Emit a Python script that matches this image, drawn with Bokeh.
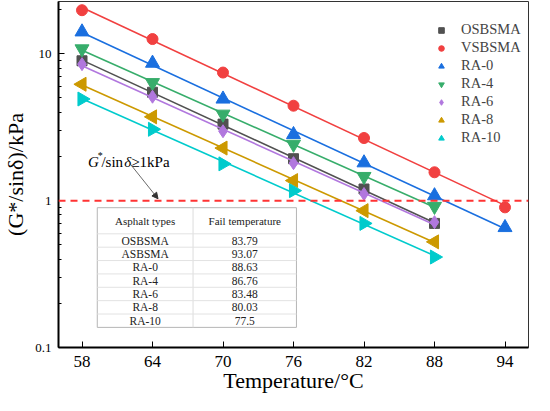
import numpy as np
from bokeh.plotting import figure
from bokeh.models import (Span, Arrow, NormalHead, FixedTicker, CustomJSTickFormatter,
                          Legend, LegendItem)
from bokeh.core.properties import value
from bokeh.embed import file_html
from bokeh.resources import INLINE

# ---------------- data ----------------
temps_full = [58, 64, 70, 76, 82, 88, 94]

series_names = ["OSBSMA", "VSBSMA", "RA-0", "RA-4", "RA-6", "RA-8", "RA-10"]
osbsma = [8.96, 5.47, 3.32, 1.93, 1.20, 0.70]
vsbsma = [19.8, 12.6, 7.45, 4.43, 2.67, 1.56, 0.90]
ra0 = [14.1, 8.63, 4.92, 2.82, 1.81, 1.08, 0.656]
ra4 = [10.8, 6.36, 3.88, 2.42, 1.46, 0.914]
ra6 = [8.5, 5.1, 2.97, 1.80, 1.11, 0.714]
ra8 = [6.2, 3.72, 2.28, 1.37, 0.855, 0.524]
ra10 = [4.92, 3.06, 1.78, 1.17, 0.70, 0.413]

table_types = ["OSBSMA", "ASBSMA", "RA-0", "RA-4", "RA-6", "RA-8", "RA-10"]
table_fail = ["83.79", "93.07", "88.63", "86.76", "83.48", "80.03", "77.5"]

x_ticks = [58, 64, 70, 76, 82, 88, 94]

# ---------------- style ----------------
FONT = "Liberation Serif"
colors = ["#515151", "#F14040", "#1A6FDF", "#37AD6B", "#B177DE", "#CC9900", "#00CBCC"]
markers = ["square", "circle", "triangle", "inverted_triangle", "diamond", "triangle", "triangle"]
angles = [0, 0, 0, 0, 0, np.pi / 2, -np.pi / 2]
sizes = [10, 11, 14, 14, 13, 14, 14]
leg_sizes = [8, 9, 11, 11, 11, 11, 11]

p = figure(width=534, height=395, x_range=(56, 96), y_range=(0.1, 22.7),
           y_axis_type="log", output_backend="svg", toolbar_location=None,
           min_border_left=0, min_border_right=6, min_border_top=1, min_border_bottom=0)

p.xgrid.visible = False
p.ygrid.visible = False
p.outline_line_color = "#333333"
p.outline_line_width = 1
p.background_fill_color = "white"

for ax in (p.xaxis, p.yaxis):
    ax.axis_line_width = 2
    ax.axis_line_color = "black"
    ax.major_tick_line_color = "black"
    ax.minor_tick_line_color = "black"
    ax.major_tick_in = 6
    ax.major_tick_out = 0
    ax.minor_tick_in = 3
    ax.minor_tick_out = 0
    ax.major_label_text_font = FONT
    ax.axis_label_text_font = FONT
    ax.axis_label_text_font_style = "normal"
    ax.axis_label_text_font_size = "22px"
    ax.major_label_text_color = "black"
    ax.axis_label_text_color = "black"

p.xaxis.ticker = FixedTicker(ticks=x_ticks, minor_ticks=[])
p.xaxis.major_label_text_font_size = "17px"
p.xaxis.major_label_standoff = 8
p.xaxis.axis_label = "Temperature/°C"
p.xaxis.axis_label_standoff = -2

p.yaxis.ticker = FixedTicker(ticks=[0.1, 1, 10],
                             minor_ticks=[0.2, 0.3, 0.4, 0.5, 0.6, 0.7, 0.8, 0.9,
                                          2, 3, 4, 5, 6, 7, 8, 9, 20])
p.yaxis.formatter = CustomJSTickFormatter(code="return tick < 1 ? tick.toFixed(1) : tick.toFixed(0);")
p.yaxis.major_label_text_font_size = "13px"
p.yaxis.major_label_standoff = 7
p.yaxis.axis_label = "(G*/sinδ)/kPa"
p.yaxis.axis_label_standoff = 4

# ---------------- table ----------------
tx0, tx1, txm = 59.3, 76.25, 67.45
ly_top = -0.048
header_h = 0.178
row_h = 0.091
ly_bot = ly_top - header_h - 7 * row_h

p.quad(left=[tx0], right=[tx1], top=[10 ** ly_top], bottom=[10 ** ly_bot],
       fill_color="white", line_color="#b5b5b5", line_width=1)
p.segment(x0=[txm], x1=[txm], y0=[10 ** ly_top], y1=[10 ** ly_bot],
          line_color="#dcdcdc", line_width=1)
hl = [ly_top - header_h - i * row_h for i in range(7)]
p.segment(x0=[tx0] * len(hl), x1=[tx1] * len(hl), y0=[10 ** v for v in hl],
          y1=[10 ** v for v in hl], line_color="#e2e2e2", line_width=1)

c1 = (tx0 + txm) / 2
c2 = (txm + tx1) / 2
p.text(x=[c1, c2], y=[10 ** (ly_top - header_h / 2)] * 2,
       text=["Asphalt types", "Fail temperature"], text_align="center",
       text_baseline="middle", text_font=value(FONT), text_font_size="11px",
       text_color="#222222")
row_y = [10 ** (ly_top - header_h - (i + 0.5) * row_h) for i in range(7)]
p.text(x=[c1] * 7, y=row_y, text=table_types, text_align="center",
       text_baseline="middle", text_font=value(FONT), text_font_size="11.5px",
       text_color="#222222")
p.text(x=[c2] * 7, y=row_y, text=table_fail, text_align="center",
       text_baseline="middle", text_font=value(FONT), text_font_size="11.5px",
       text_color="#222222")

# ---------------- threshold line and annotation ----------------
p.add_layout(Span(location=1, dimension="width", line_color="#FF3333",
                  line_dash="7 5", line_width=2))

ann_y = 1.82
ann_kw = dict(text_baseline="alphabetic", text_font=value(FONT), text_color="black")
p.text(x=[58.5], y=[ann_y], text=["G"], text_font_size="15px", text_font_style="italic", **ann_kw)
p.text(x=[59.35], y=[2.02], text=["*"], text_font_size="10px", **ann_kw)
p.text(x=[59.65], y=[ann_y], text=["/sin"], text_font_size="15px", **ann_kw)
p.text(x=[61.6], y=[ann_y], text=["δ"], text_font_size="15px", text_font_style="italic", **ann_kw)
p.text(x=[62.2], y=[ann_y], text=["≥1kPa"], text_font_size="15px", **ann_kw)

p.add_layout(Arrow(end=NormalHead(size=6, fill_color="#333333", line_color="#333333"),
                   x_start=62.1, y_start=1.78, x_end=64.47, y_end=1.03,
                   line_color="#444444", line_width=0.8))

# ---------------- series ----------------
all_vals = [osbsma, vsbsma, ra0, ra4, ra6, ra8, ra10]
items = []
for name, vals, col, mk, ang, sz, lsz in zip(series_names, all_vals, colors, markers,
                                              angles, sizes, leg_sizes):
    xs = temps_full[:len(vals)]
    k, b = np.polyfit(xs, np.log10(vals), 1)
    fx = [xs[0], xs[-1]]
    fy = [10 ** (k * v + b) for v in fx]
    p.line(fx, fy, line_color=col, line_width=1.6)
    p.scatter(xs, vals, marker=mk, angle=ang, size=sz, fill_color=col, line_color=col)
    # legend proxy (marker only; its single point is NaN so nothing is drawn in the plot)
    r = p.scatter([np.nan], [np.nan], marker=mk, angle=ang, size=lsz,
                  fill_color=col, line_color=col)
    items.append(LegendItem(label=name, renderers=[r]))

legend = Legend(items=items, location=(376, 201))
legend.border_line_alpha = 0
legend.background_fill_alpha = 0
legend.label_text_font = FONT
legend.label_text_font_size = "14.5px"
legend.glyph_width = 14
legend.glyph_height = 16
legend.label_height = 16
legend.spacing = 1
legend.padding = 0
legend.margin = 0
legend.label_standoff = 13
p.add_layout(legend, "center")

open("out.html", "w").write(file_html(p, INLINE))
